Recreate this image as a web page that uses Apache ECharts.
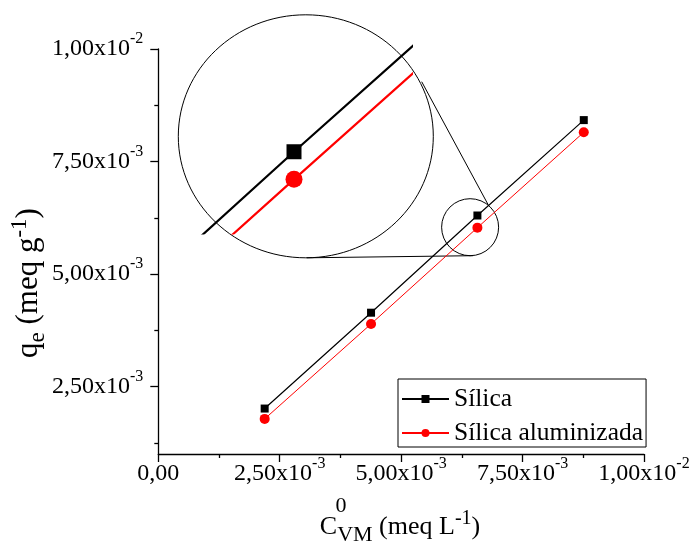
<!DOCTYPE html>
<html><head><meta charset="utf-8">
<script src="https://cdn.jsdelivr.net/npm/echarts@6/dist/echarts.min.js"></script>
<style>html,body{margin:0;padding:0;background:#fff}#c{width:695px;height:548px}</style>
</head><body><div id="c"></div>
<script>
// ---- data ----
const concentration = [0.00219, 0.00438, 0.00657, 0.00876];
const silica = [0.00201, 0.00414, 0.00630, 0.00842];
const silicaAl = [0.00178, 0.00389, 0.00603, 0.00815];
const seriesNames = ['Sílica', 'Sílica aluminizada'];
const xTickValues = [0, 0.0025, 0.005, 0.0075, 0.01];
const xTickMant = ['0,00', '2,50x10', '5,00x10', '7,50x10', '1,00x10'];
const xTickExp = ['', '-3', '-3', '-3', '-2'];
const yTickValues = [0.0025, 0.005, 0.0075, 0.01];
const yTickMant = ['2,50x10', '5,00x10', '7,50x10', '1,00x10'];
const yTickExp = ['-3', '-3', '-3', '-2'];
const yMinorTicks = [0.00125, 0.00375, 0.00625, 0.00875];
const zoomCenter = [0.00642, 0.00604];

const FONT = '"Liberation Serif", "Times New Roman", "DejaVu Serif", serif';
const pairs = (xs, ys) => xs.map((x, i) => [x, ys[i]]);
function tickLabel(values, mant, exp) {
  return function (v) {
    let k = 0, best = Infinity;
    values.forEach((t, i) => { const d = Math.abs(t - v); if (d < best) { best = d; k = i; } });
    return exp[k] ? '{a|' + mant[k] + '}{s|' + exp[k] + '}' : '{a|' + mant[k] + '}';
  };
}
const labelRich = {
  a: { fontFamily: FONT, fontSize: 24, lineHeight: 24, color: '#000' },
  s: { fontFamily: FONT, fontSize: 16, lineHeight: 16, padding: [0, 0, 20, 0], color: '#000' }
};

const chart = echarts.init(document.getElementById('c'), null, { renderer: 'canvas' });
const G = { left: 158.3, top: 49, width: 485.7, height: 405 };
const I = { left: 178, top: 15, width: 233, height: 218.3 };

chart.setOption({
  animation: false,
  backgroundColor: '#fff',
  textStyle: { fontFamily: FONT },
  grid: [
    { left: G.left, top: G.top, width: G.width, height: G.height },
    { left: I.left, top: I.top, width: I.width, height: I.height }
  ],
  xAxis: [
    {
      gridIndex: 0, type: 'value', min: 0, max: 0.01, interval: 0.0025,
      axisLine: { show: true, onZero: false, lineStyle: { color: '#000', width: 1.3 } },
      axisTick: { show: true, length: 8, lineStyle: { color: '#000', width: 1.3 } },
      minorTick: { show: true, splitNumber: 2, length: 4, lineStyle: { color: '#000', width: 1.3 } },
      splitLine: { show: false },
      axisLabel: { margin: 20, verticalAlign: 'middle', fontFamily: FONT, formatter: tickLabel(xTickValues, xTickMant, xTickExp), rich: labelRich }
    },
    { gridIndex: 1, type: 'value', min: 0.005525, max: 0.007624, show: false }
  ],
  yAxis: [
    {
      gridIndex: 0, type: 'value', min: 0.001, max: 0.01,
      axisLine: { show: true, onZero: false, lineStyle: { color: '#000', width: 1.3 } },
      axisTick: { show: true, length: 8, customValues: yTickValues, lineStyle: { color: '#000', width: 1.3 } },
      splitLine: { show: false },
      axisLabel: { margin: 15, fontFamily: FONT, customValues: yTickValues, formatter: tickLabel(yTickValues, yTickMant, yTickExp), rich: labelRich }
    },
    {
      gridIndex: 0, type: 'value', min: 0.001, max: 0.01, position: 'left',
      axisLine: { show: false },
      axisTick: { show: true, length: 4, customValues: yMinorTicks, lineStyle: { color: '#000', width: 1.3 } },
      axisLabel: { show: false }, splitLine: { show: false }
    },
    { gridIndex: 1, type: 'value', min: 0.005502, max: 0.007638, show: false }
  ],
  legend: {
    orient: 'vertical', left: 398, top: 379,
    data: seriesNames,
    itemWidth: 47, itemHeight: 10, itemGap: 8,
    padding: [7, 3, 1, 3],
    borderColor: '#000', borderWidth: 1,
    textStyle: { fontFamily: FONT, fontSize: 25.5, color: '#000', lineHeight: 24 }
  },
  series: [
    {
      name: seriesNames[0], type: 'line', xAxisIndex: 0, yAxisIndex: 0,
      data: pairs(concentration, silica), symbol: 'rect', symbolSize: 8,
      itemStyle: { color: '#000' }, lineStyle: { color: '#000', width: 1.2 }, silent: true
    },
    {
      name: seriesNames[1], type: 'line', xAxisIndex: 0, yAxisIndex: 0,
      data: pairs(concentration, silicaAl), symbol: 'circle', symbolSize: 10,
      itemStyle: { color: '#ff0000' }, lineStyle: { color: '#ff0000', width: 1 }, silent: true
    },
    {
      name: seriesNames[0], type: 'line', xAxisIndex: 1, yAxisIndex: 2, clip: true,
      data: pairs(concentration, silica), symbol: 'rect', symbolSize: 15,
      itemStyle: { color: '#000' }, lineStyle: { color: '#000', width: 2.2 }, silent: true
    },
    {
      name: seriesNames[1], type: 'line', xAxisIndex: 1, yAxisIndex: 2, clip: true,
      data: pairs(concentration, silicaAl), symbol: 'circle', symbolSize: 17,
      itemStyle: { color: '#ff0000' }, lineStyle: { color: '#ff0000', width: 2.2 }, silent: true
    }
  ]
});

const zc = chart.convertToPixel({ gridIndex: 0 }, zoomCenter);
const r = 28.5;
const big = { cx: 305.8, cy: 136.3, rx: 127.5, ry: 121.5 };
chart.setOption({
  graphic: [
    { type: 'ellipse', shape: big, style: { fill: 'none', stroke: '#000', lineWidth: 1 }, z: 1, silent: true },
    { type: 'circle', shape: { cx: zc[0], cy: zc[1], r: r }, style: { fill: 'none', stroke: '#000', lineWidth: 1 }, z: 1, silent: true },
    { type: 'line', shape: { x1: 306.7, y1: big.cy + big.ry, x2: zc[0] + 3, y2: zc[1] + r }, style: { stroke: '#000', lineWidth: 1 }, silent: true },
    { type: 'line', shape: { x1: 421.7, y1: 81.7, x2: zc[0] + 18.3, y2: zc[1] - 22 }, style: { stroke: '#000', lineWidth: 1 }, silent: true },
    {
      type: 'text', x: 29, y: 283, rotation: Math.PI / 2, silent: true,
      style: {
        text: '{t|q}{sub|e}{t| (meq g}{sup|-1}{t|)}', align: 'center', verticalAlign: 'middle',
        rich: {
          t: { fontFamily: FONT, fontSize: 31, lineHeight: 31, fill: '#000' },
          sub: { fontFamily: FONT, fontSize: 23, lineHeight: 23, padding: [18, 0, 0, 0], fill: '#000' },
          sup: { fontFamily: FONT, fontSize: 23, lineHeight: 23, padding: [0, 0, 18, 0], fill: '#000' }
        }
      }
    },
    {
      type: 'text', x: 400, y: 527, silent: true,
      style: {
        text: '{t|C}{sub|VM}{t| (meq L}{sup|-1}{t|)}', align: 'center', verticalAlign: 'middle',
        rich: {
          t: { fontFamily: FONT, fontSize: 26, lineHeight: 26, fill: '#000' },
          sub: { fontFamily: FONT, fontSize: 22, lineHeight: 22, padding: [16, 0, 0, 0], fill: '#000' },
          sup: { fontFamily: FONT, fontSize: 20, lineHeight: 20, padding: [0, 0, 16, 0], fill: '#000' }
        }
      }
    },
    {
      type: 'text', x: 341, y: 506, silent: true,
      style: { text: '0', fontFamily: FONT, fontSize: 22, fill: '#000', align: 'center', verticalAlign: 'middle' }
    }
  ]
});
</script></body></html>
